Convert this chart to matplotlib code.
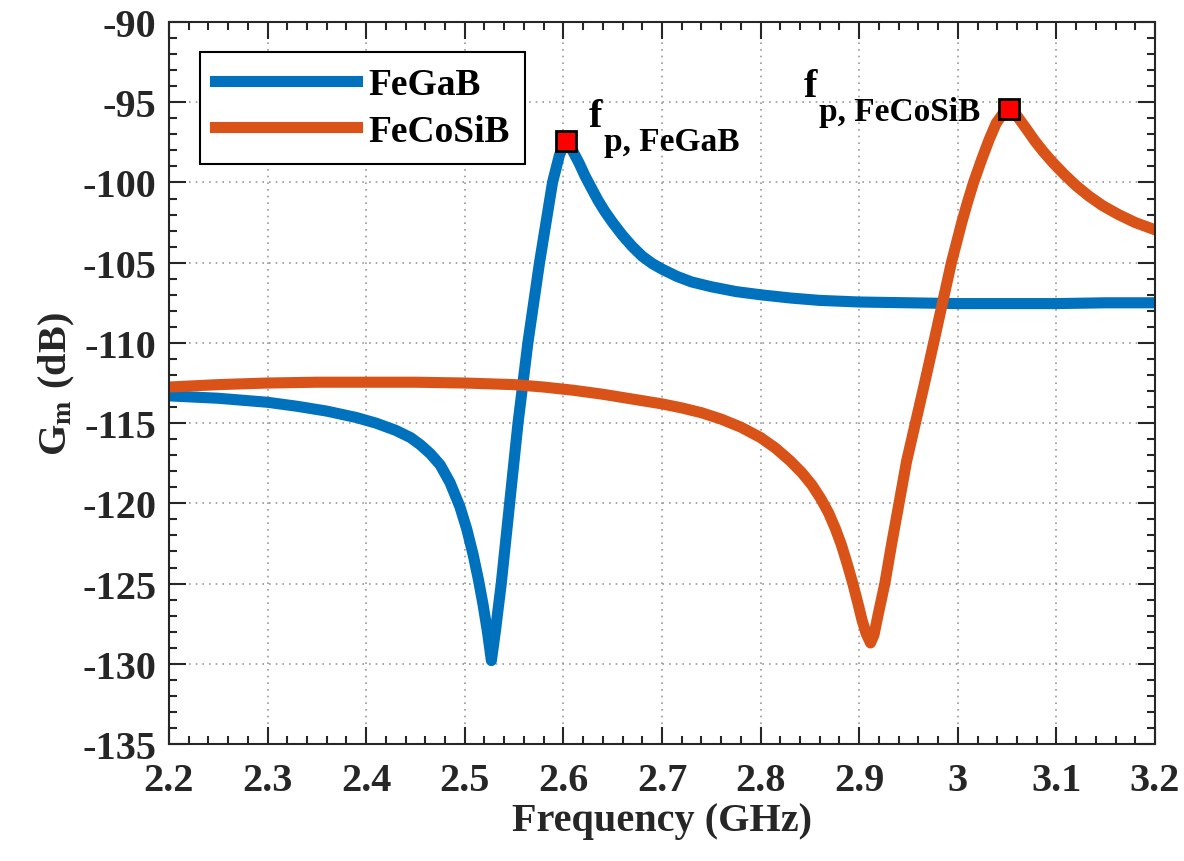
import numpy as np
import matplotlib.pyplot as plt
import matplotlib as mpl
from matplotlib.ticker import MultipleLocator, FormatStrFormatter, FuncFormatter

mpl.rcParams.update(
    {
        "font.family": "Liberation Serif",
        "font.weight": "bold",
        "font.size": 29,
        "axes.labelweight": "bold",
        "axes.unicode_minus": False,
        "mathtext.fontset": "stix",
    }
)

# FeGaB curve (GHz, dB)
fegab_f = [2.20, 2.25, 2.30, 2.33, 2.36, 2.39, 2.41, 2.43, 2.445, 2.455,
           2.465, 2.475, 2.485, 2.495, 2.502, 2.5085, 2.514, 2.5185, 2.523,
           2.527, 2.531, 2.537, 2.5455, 2.554, 2.564, 2.5758, 2.589, 2.596,
           2.600, 2.603, 2.606, 2.61, 2.616, 2.622, 2.628, 2.635, 2.642, 2.65,
           2.66, 2.67, 2.68, 2.69, 2.70, 2.715, 2.73, 2.75, 2.775, 2.80, 2.83,
           2.86, 2.90, 2.95, 3.00, 3.05, 3.10, 3.15, 3.20]
fegab_g = [-113.3, -113.45, -113.7, -113.95, -114.25, -114.65, -115.0, -115.45,
           -115.9, -116.35, -116.9, -117.6, -118.7, -120.2, -121.6, -123.2,
           -124.8, -126.3, -128.0, -129.8, -128.0, -125.0, -120.0, -115.0,
           -110.0, -105.0, -100.0, -98.3, -97.7, -97.4, -97.7, -98.1, -98.8,
           -99.6, -100.3, -101.1, -101.8, -102.5, -103.3, -104.0, -104.6,
           -105.05, -105.4, -105.85, -106.2, -106.5, -106.8, -107.0, -107.2,
           -107.35, -107.45, -107.5, -107.55, -107.55, -107.55, -107.5, -107.5]

# FeCoSiB curve (GHz, dB)
fecosib_f = [2.20, 2.25, 2.30, 2.35, 2.40, 2.45, 2.50, 2.55, 2.58, 2.61, 2.64,
             2.67, 2.70, 2.72, 2.74, 2.76, 2.78, 2.80, 2.815, 2.83, 2.842,
             2.852, 2.861, 2.869, 2.876, 2.882, 2.888, 2.894, 2.899, 2.903,
             2.907, 2.9115, 2.915, 2.919, 2.926, 2.933, 2.9404, 2.948, 2.957,
             2.966, 2.9755, 2.9845, 2.9935, 3.004, 3.010, 3.016, 3.024, 3.032,
             3.039, 3.046, 3.052, 3.057, 3.063, 3.07, 3.078, 3.087, 3.097,
             3.108, 3.12, 3.133, 3.147, 3.163, 3.18, 3.20]
fecosib_g = [-112.75, -112.6, -112.5, -112.45, -112.45, -112.45, -112.5, -112.6,
             -112.75, -112.95, -113.2, -113.5, -113.8, -114.05, -114.35, -114.75,
             -115.25, -115.9, -116.55, -117.35, -118.1, -118.85, -119.7, -120.6,
             -121.6, -122.6, -123.8, -125.1, -126.3, -127.3, -128.1, -128.7,
             -128.2, -127.0, -125.0, -122.5, -120.0, -117.4, -115.0, -112.6,
             -110.0, -107.5, -105.0, -102.5, -101.2, -100.0, -98.6, -97.3, -96.3,
             -95.7, -95.4, -95.6, -96.1, -96.7, -97.4, -98.1, -98.8, -99.5,
             -100.2, -100.85, -101.45, -102.0, -102.5, -102.95]

# peak markers
peak_f = [2.603, 3.052]
peak_g = [-97.4, -95.4]

BLUE = "#0072BD"
ORANGE = "#D95319"
DARK = "#262626"

fig = plt.figure(figsize=(11.84, 8.62), dpi=100)
ax = fig.add_axes([0.1427, 0.1357, 0.8328, 0.8376])

ax.plot(fegab_f, fegab_g, color=BLUE, lw=8, label="FeGaB", solid_joinstyle="round")
ax.plot(fecosib_f, fecosib_g, color=ORANGE, lw=8, label="FeCoSiB", solid_joinstyle="round")
ax.plot(peak_f, peak_g, "s", color="red", markeredgecolor="black",
        markeredgewidth=2, markersize=15, zorder=5)

# peak labels
ax.text(2.626, -96.5, "f", fontsize=29, color="black")
ax.text(2.641, -98.0, "p, FeGaB", fontsize=24, color="black")
ax.text(2.844, -94.6, "f", fontsize=29, color="black")
ax.text(2.859, -96.1, "p, FeCoSiB", fontsize=24, color="black")

ax.set_xlim(2.2, 3.2)
ax.set_ylim(-135, -90)
ax.xaxis.set_major_locator(MultipleLocator(0.1))
ax.xaxis.set_minor_locator(MultipleLocator(0.02))
ax.yaxis.set_major_locator(MultipleLocator(5))
ax.yaxis.set_minor_locator(MultipleLocator(1))
ax.xaxis.set_major_formatter(FuncFormatter(lambda v, p: f"{v:g}"))
ax.yaxis.set_major_formatter(FormatStrFormatter("%d"))

ax.tick_params(which="both", direction="in", top=True, right=True,
               colors=DARK, width=1.5)
ax.tick_params(which="major", length=12)
ax.tick_params(which="minor", length=6)
ax.tick_params(axis="x", which="major", pad=13)
ax.tick_params(axis="y", which="major", pad=9)
for s in ax.spines.values():
    s.set_color(DARK)
    s.set_linewidth(1.5)

ax.grid(True, which="major", linestyle=(0, (1, 3)), color="#9a9a9a", lw=1.2)

ax.set_xlabel("Frequency (GHz)", color=DARK, labelpad=2)
ax.set_ylabel(r"G$_{\mathbf{m}}$ (dB)", color=DARK, labelpad=4)

leg = ax.legend(loc="upper left", bbox_to_anchor=(0.031, 0.958), borderaxespad=0,
                fancybox=False, framealpha=1, edgecolor="black",
                handlelength=3.8, handletextpad=0.3, labelspacing=0.3,
                borderpad=0.4, fontsize=27)
leg.get_frame().set_linewidth(1.5)

fig.savefig("out.png", dpi=100)
